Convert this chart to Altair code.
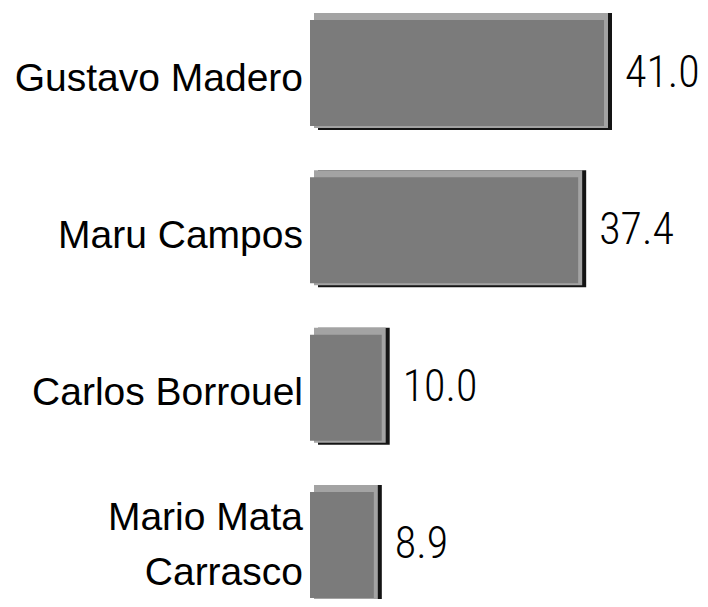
import altair as alt
import pandas as pd

candidates = ["Gustavo Madero", "Maru Campos", "Carlos Borrouel", "Mario Mata|Carrasco"]
values = [41.0, 37.4, 10.0, 8.9]

df = pd.DataFrame({"name": candidates, "value": values})

x_scale = alt.Scale(domain=[0, 41], nice=False, zero=True)
y_scale = alt.Scale(paddingInner=0.256, paddingOuter=0, range=[0, 589])

x_enc = alt.X("value:Q", scale=x_scale, axis=None)
y_enc = alt.Y("name:N", sort=None, scale=y_scale, axis=None)

base = alt.Chart(df)

outer = base.mark_bar(color="#141414").encode(x=x_enc, y=y_enc)
bevel = base.mark_bar(color="#a3a3a3", size=115, yOffset=-1, xOffset=-4, x2Offset=2).encode(x=x_enc, y=y_enc)
inner = base.mark_bar(color="#7b7b7b", size=106, yOffset=1.5, xOffset=-8, x2Offset=3).encode(x=x_enc, y=y_enc)

name_style = dict(
    align="right",
    baseline="middle",
    font="Liberation Sans",
    fontSize=39,
    color="#000000",
    lineHeight=55,
    lineBreak="|",
)

single_names = (
    base.transform_filter("indexof(datum.name, '|') < 0")
    .mark_text(dy=7, **name_style)
    .encode(x=alt.value(-15), y=y_enc, text="name:N")
)
multi_names = (
    base.transform_filter("indexof(datum.name, '|') >= 0")
    .mark_text(dy=-25, **name_style)
    .encode(x=alt.value(-15), y=y_enc, text="name:N")
)

values_text = base.mark_text(
    align="left",
    baseline="middle",
    dx=13,
    dy=2,
    font="Roboto Condensed, Liberation Sans Narrow, DejaVu Sans Condensed, sans-serif",
    fontWeight=300,
    fontSize=44,
    color="#000000",
).encode(x=x_enc, y=y_enc, text=alt.Text("value:Q", format=".1f"))

chart = (
    alt.layer(outer, bevel, inner, single_names, multi_names, values_text)
    .properties(
        width=294,
        height=586,
        autosize=alt.AutoSizeParams(type="none"),
        padding={"left": 310, "top": 5, "right": 88, "bottom": 0},
        background="#ffffff",
    )
    .configure_view(stroke=None)
)

chart.save("out.html", embed_options={"renderer": "svg", "actions": False})
